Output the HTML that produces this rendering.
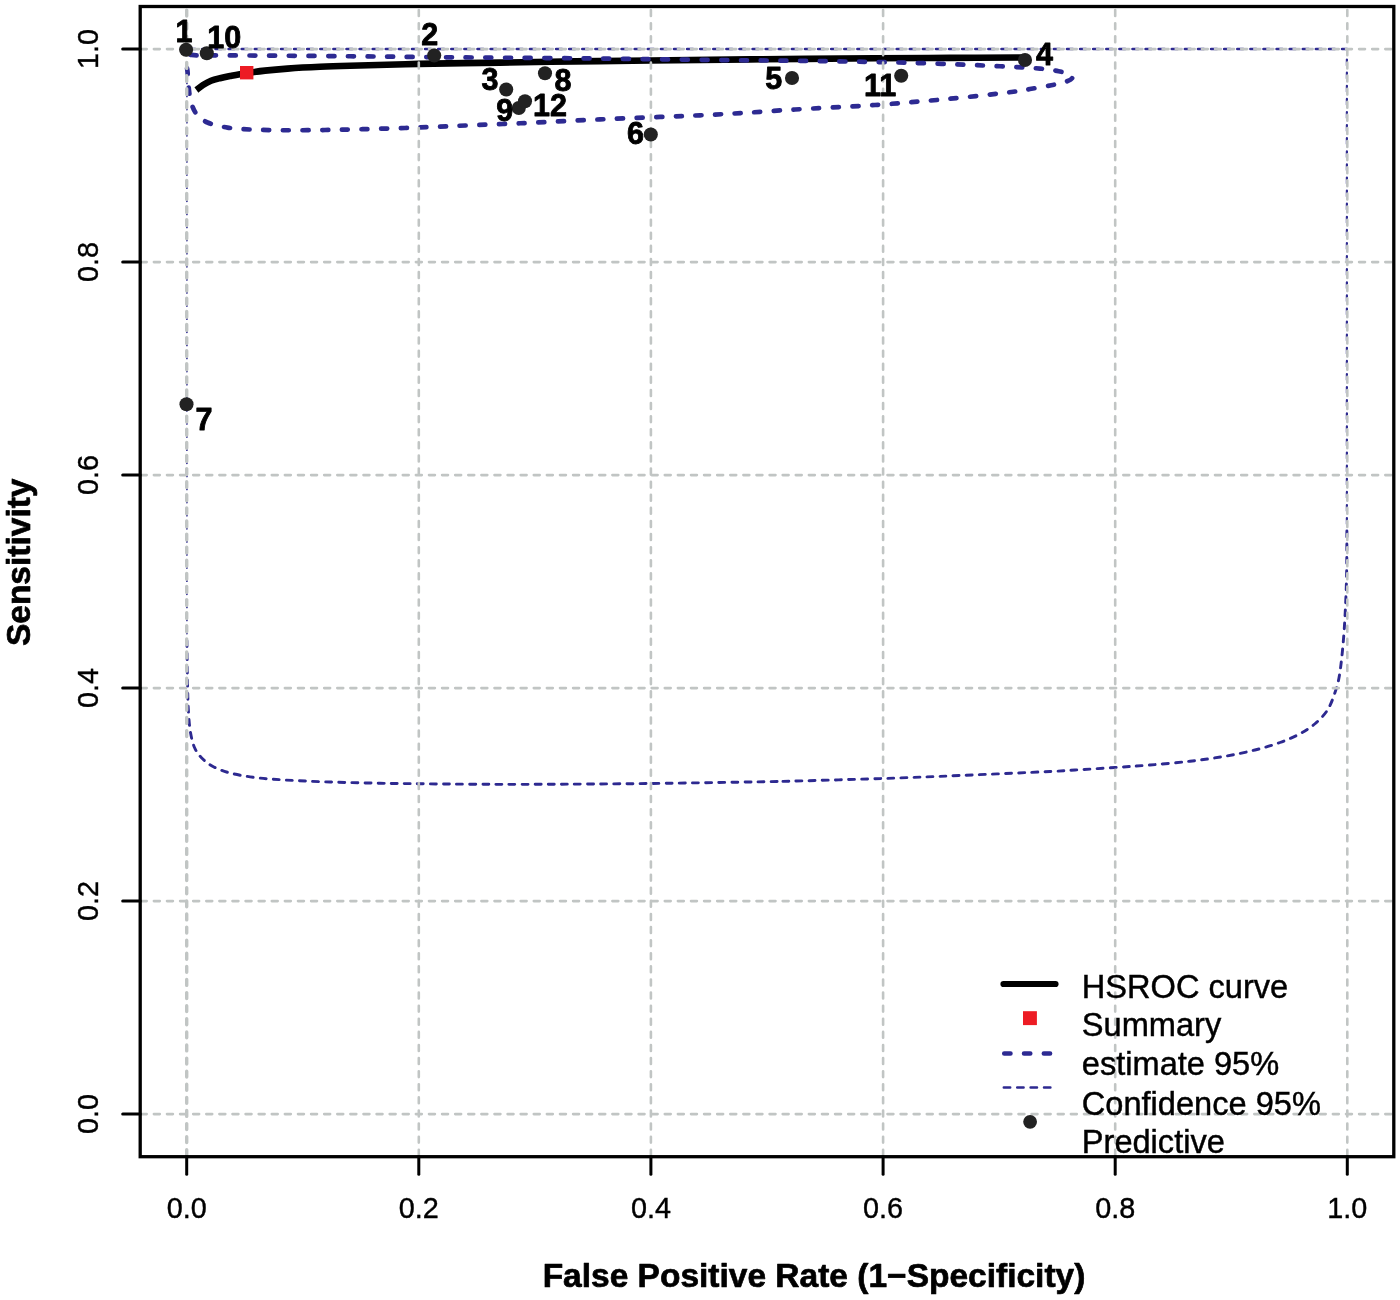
<!DOCTYPE html>
<html lang="en"><head><meta charset="utf-8"><title>HSROC plot</title>
<style>html,body{margin:0;padding:0;background:#fff}body{width:1400px;height:1300px;overflow:hidden}svg{display:block}</style>
</head><body>
<svg width="1400" height="1300" viewBox="0 0 1400 1300" font-family="Liberation Sans, sans-serif">
<rect width="1400" height="1300" fill="#fff"/>
<g fill="none" stroke="#2d2990" stroke-width="2.9" stroke-linecap="round" stroke-dasharray="5.9 7.2">
<path d="M189.3 49 H1347" stroke-width="2.6"/>
<path d="M1346.90 59.60 L1346.90 530.00" stroke-width="2.2"/><path d="M1346.90 530.00 C1346.85 537.50 1346.88 561.25 1346.60 575.00 C1346.32 588.75 1345.80 600.83 1345.20 612.50 C1344.60 624.17 1343.95 634.58 1343.00 645.00 C1342.05 655.42 1340.83 667.08 1339.50 675.00 C1338.17 682.92 1337.00 686.67 1335.00 692.50 C1333.00 698.33 1330.83 704.79 1327.50 710.00 C1324.17 715.21 1319.58 719.79 1315.00 723.75 C1310.42 727.71 1305.83 730.62 1300.00 733.75 C1294.17 736.88 1287.50 739.79 1280.00 742.50 C1272.50 745.21 1264.17 747.71 1255.00 750.00 C1245.83 752.29 1235.83 754.38 1225.00 756.25 C1214.17 758.12 1202.50 759.79 1190.00 761.25 C1177.50 762.71 1162.50 763.96 1150.00 765.00 C1137.50 766.04 1127.50 766.67 1115.00 767.50 C1102.50 768.33 1085.83 769.33 1075.00 770.00 C1064.17 770.67 1069.17 770.58 1050.00 771.50 C1030.83 772.42 987.83 774.33 960.00 775.50 C932.17 776.67 913.00 777.50 883.00 778.50 C853.00 779.50 797.17 781.00 780.00 781.50" stroke-dashoffset="11.90"/>
<path d="M186.90 64.40 L186.90 640.00" stroke-width="1.7"/><path d="M186.90 640.00 C187.02 647.92 187.33 675.42 187.60 687.50 C187.87 699.58 188.02 705.00 188.50 712.50 C188.98 720.00 189.50 726.67 190.50 732.50 C191.50 738.33 192.71 743.33 194.50 747.50 C196.29 751.67 198.25 754.38 201.25 757.50 C204.25 760.62 207.71 763.67 212.50 766.25 C217.29 768.83 222.92 771.12 230.00 773.00 C237.08 774.88 245.83 776.33 255.00 777.50 C264.17 778.67 272.50 779.25 285.00 780.00 C297.50 780.75 314.17 781.46 330.00 782.00 C345.83 782.54 365.00 782.96 380.00 783.25 C395.00 783.54 404.17 783.58 420.00 783.75 C435.83 783.92 455.00 784.16 475.00 784.25 C495.00 784.34 510.67 784.42 540.00 784.30 C569.33 784.17 611.00 783.97 651.00 783.50 C691.00 783.03 758.50 781.83 780.00 781.50" stroke-dashoffset="12.30"/>
</g>
<path d="M196.40 90.00 C197.50 89.17 200.57 86.53 203.00 85.00 C205.43 83.47 208.17 81.93 211.00 80.80 C213.83 79.67 216.83 78.98 220.00 78.20 C223.17 77.42 225.67 76.93 230.00 76.10 C234.33 75.27 240.17 74.12 246.00 73.20 C251.83 72.28 258.08 71.37 265.00 70.60 C271.92 69.83 278.33 69.23 287.50 68.60 C296.67 67.97 309.58 67.27 320.00 66.80 C330.42 66.33 333.54 66.23 350.00 65.75 C366.46 65.27 393.75 64.42 418.75 63.90 C443.75 63.38 473.96 63.02 500.00 62.60 C526.04 62.18 550.00 61.75 575.00 61.40 C600.00 61.05 620.83 60.83 650.00 60.50 C679.17 60.17 712.50 59.77 750.00 59.40 C787.50 59.03 841.67 58.55 875.00 58.30 C908.33 58.05 925.50 58.03 950.00 57.90 C974.50 57.77 1010.00 57.57 1022.00 57.50" fill="none" stroke="#000" stroke-width="6.6" stroke-linecap="butt" stroke-linejoin="round"/>
<path d="M186.90 56.20 C188.97 53.35 189.48 55.52 200.00 55.40 C210.52 55.28 225.00 55.36 250.00 55.50 C275.00 55.64 317.08 55.95 350.00 56.25 C382.92 56.55 410.83 56.97 447.50 57.30 C484.17 57.63 527.92 57.83 570.00 58.25 C612.08 58.67 655.00 59.27 700.00 59.80 C745.00 60.32 802.50 60.82 840.00 61.40 C877.50 61.98 898.33 62.44 925.00 63.25 C951.67 64.06 980.83 65.36 1000.00 66.25 C1019.17 67.14 1030.23 67.77 1040.00 68.60 C1049.77 69.42 1053.83 70.25 1058.60 71.20 C1063.37 72.15 1066.33 73.17 1068.60 74.30 C1070.87 75.43 1072.80 76.72 1072.20 78.00 C1071.60 79.28 1068.47 80.80 1065.00 82.00 C1061.53 83.20 1057.00 84.07 1051.40 85.20 C1045.80 86.33 1038.07 87.67 1031.40 88.80 C1024.73 89.93 1024.97 90.34 1011.40 92.00 C997.83 93.66 972.73 96.58 950.00 98.75 C927.27 100.92 900.83 103.21 875.00 105.00 C849.17 106.79 817.08 108.17 795.00 109.50 C772.92 110.83 758.33 112.03 742.50 113.00 C726.67 113.97 713.75 114.65 700.00 115.30 C686.25 115.95 676.67 116.22 660.00 116.90 C643.33 117.58 623.33 118.34 600.00 119.40 C576.67 120.46 545.42 122.11 520.00 123.25 C494.58 124.39 466.67 125.46 447.50 126.25 C428.33 127.04 419.17 127.51 405.00 128.00 C390.83 128.49 375.83 128.87 362.50 129.20 C349.17 129.53 337.92 129.82 325.00 130.00 C312.08 130.18 297.50 130.33 285.00 130.25 C272.50 130.17 259.58 129.94 250.00 129.50 C240.42 129.06 234.58 128.77 227.50 127.60 C220.42 126.43 212.67 124.77 207.50 122.50 C202.33 120.23 199.25 117.42 196.50 114.00 C193.75 110.58 192.29 106.33 191.00 102.00 C189.71 97.67 189.32 92.92 188.75 88.00 C188.18 83.08 187.91 77.80 187.60 72.50 C187.29 67.20 184.83 59.05 186.90 56.20Z" fill="none" stroke="#2d2a92" stroke-width="4.7" stroke-linecap="round" stroke-dasharray="6 13.66" stroke-dashoffset="-4.2"/>
<rect x="240" y="66" width="13.4" height="13.4" fill="#ed1c24"/>
<g stroke="#c1c5c4" stroke-width="2.6" stroke-linecap="round" stroke-dasharray="5.9 7.2" fill="none">
<path d="M186.7 1155.7 V8.5" stroke-width="3.4"/>
<path d="M418.8 1155.7 V8.5"/>
<path d="M650.9 1155.7 V8.5"/>
<path d="M883.1 1155.7 V8.5"/>
<path d="M1115.2 1155.7 V8.5"/>
<path d="M1347.3 1155.7 V8.5"/>
<path d="M140.8 1114.1 H1391.8"/>
<path d="M140.8 901.1 H1391.8"/>
<path d="M140.8 688.1 H1391.8"/>
<path d="M140.8 475.1 H1391.8"/>
<path d="M140.8 262.1 H1391.8"/>
<path d="M140.8 49.1 H1391.8"/>
</g>
<rect x="140.2" y="6.5" width="1253.6" height="1150.2" fill="none" stroke="#000" stroke-width="3.3"/>
<g stroke="#000" stroke-width="3" stroke-linecap="round">
<path d="M186.7 1156.7 V1174.2"/>
<path d="M140.2 1114.1 H122.7"/>
<path d="M418.8 1156.7 V1174.2"/>
<path d="M140.2 901.1 H122.7"/>
<path d="M650.9 1156.7 V1174.2"/>
<path d="M140.2 688.1 H122.7"/>
<path d="M883.1 1156.7 V1174.2"/>
<path d="M140.2 475.1 H122.7"/>
<path d="M1115.2 1156.7 V1174.2"/>
<path d="M140.2 262.1 H122.7"/>
<path d="M1347.3 1156.7 V1174.2"/>
<path d="M140.2 49.1 H122.7"/>
</g>
<g font-size="28.8" fill="#000" text-anchor="middle" stroke="#000" stroke-width="0.4">
<text x="186.7" y="1218.4">0.0</text>
<text transform="translate(98 1114.1) rotate(-90)">0.0</text>
<text x="418.8" y="1218.4">0.2</text>
<text transform="translate(98 901.1) rotate(-90)">0.2</text>
<text x="650.9" y="1218.4">0.4</text>
<text transform="translate(98 688.1) rotate(-90)">0.4</text>
<text x="883.1" y="1218.4">0.6</text>
<text transform="translate(98 475.1) rotate(-90)">0.6</text>
<text x="1115.2" y="1218.4">0.8</text>
<text transform="translate(98 262.1) rotate(-90)">0.8</text>
<text x="1347.3" y="1218.4">1.0</text>
<text transform="translate(98 49.1) rotate(-90)">1.0</text>
</g>
<text x="814" y="1287" font-size="33.5" font-weight="bold" text-anchor="middle" stroke="#000" stroke-width="0.7" stroke-linejoin="round">False Positive Rate (1−Specificity)</text>
<text transform="translate(30.3 562.3) rotate(-90)" font-size="33.5" font-weight="bold" text-anchor="middle" stroke="#000" stroke-width="0.7" stroke-linejoin="round">Sensitivity</text>
<g fill="#222">
<circle cx="186.1" cy="49.8" r="7.05"/>
<circle cx="206.8" cy="53.3" r="7.05"/>
<circle cx="434.2" cy="55.5" r="7.05"/>
<circle cx="506.2" cy="89.5" r="7.05"/>
<circle cx="545.0" cy="73.2" r="7.05"/>
<circle cx="518.8" cy="108.0" r="7.05"/>
<circle cx="525.0" cy="101.2" r="7.05"/>
<circle cx="650.8" cy="134.5" r="7.05"/>
<circle cx="792.0" cy="78.0" r="7.05"/>
<circle cx="901.2" cy="75.8" r="7.05"/>
<circle cx="1025.0" cy="60.0" r="7.05"/>
<circle cx="186.5" cy="404.3" r="7.05"/>
</g>
<g font-size="30.5" font-weight="bold" fill="#000" stroke="#000" stroke-width="0.85" stroke-linejoin="round">
<text x="175.5" y="41.8">1</text>
<text x="207.3" y="47.5">10</text>
<text x="421.3" y="44.5">2</text>
<text x="481.5" y="90.0">3</text>
<text x="554.5" y="91.2">8</text>
<text x="496.3" y="120.5">9</text>
<text x="533.0" y="116.2">12</text>
<text x="627.0" y="143.8">6</text>
<text x="765.3" y="89.2">5</text>
<text x="864.0" y="95.5">11</text>
<text x="1036.0" y="65.1">4</text>
<text x="195.5" y="429.5">7</text>
</g>
<path d="M1003.5 984 H1055.5" stroke="#000" stroke-width="6.2" stroke-linecap="round"/>
<rect x="1023" y="1011.2" width="13.9" height="13.9" fill="#ed1c24"/>
<path d="M1004.2 1053.4 H1053" stroke="#2d2a92" stroke-width="4.5" stroke-linecap="round" stroke-dasharray="6.3 13.5"/>
<path d="M1003.8 1087.6 H1052" stroke="#2d2990" stroke-width="2.5" stroke-linecap="round" stroke-dasharray="6.4 7"/>
<circle cx="1030.1" cy="1121.8" r="6.9" fill="#222"/>
<g font-size="32.6" fill="#000" stroke="#000" stroke-width="0.45">
<text x="1081.8" y="997.6">HSROC curve</text>
<text x="1081.8" y="1036.1">Summary</text>
<text x="1081.8" y="1074.7">estimate 95%</text>
<text x="1081.8" y="1114.6">Confidence 95%</text>
<text x="1081.8" y="1153.1">Predictive</text>
</g>
</svg>
</body></html>
